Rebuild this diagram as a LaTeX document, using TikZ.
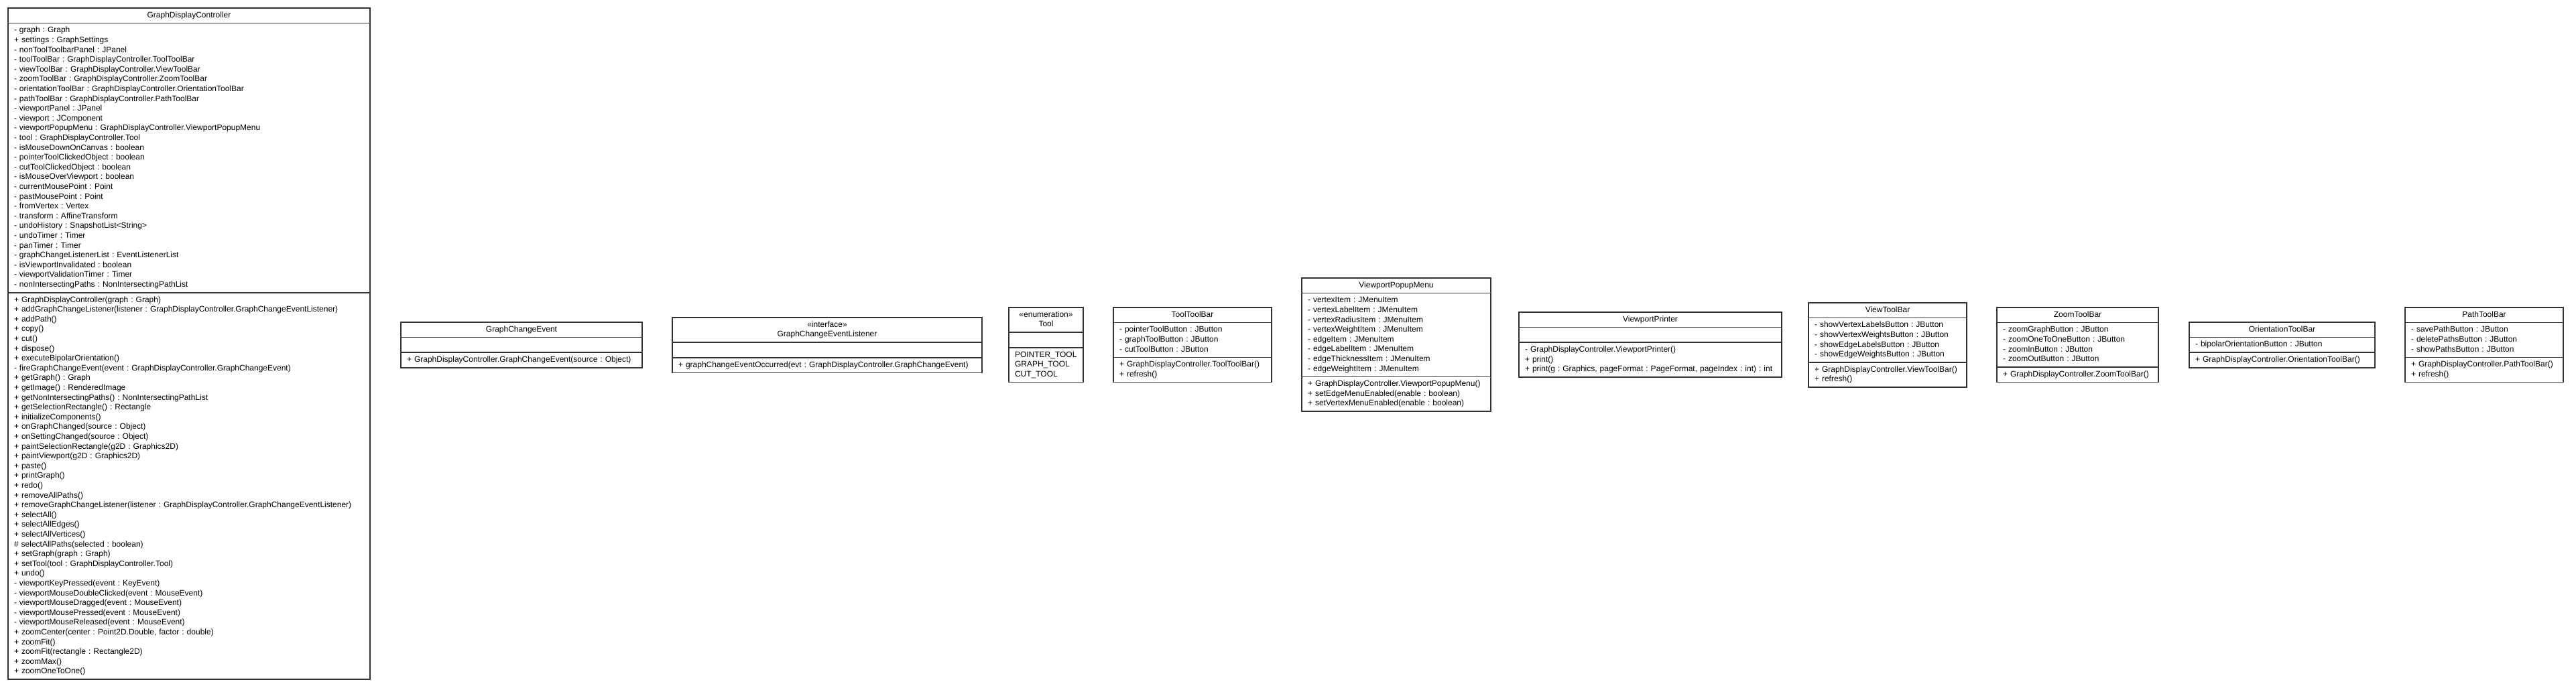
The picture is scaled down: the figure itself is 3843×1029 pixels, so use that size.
\documentclass[tikz,border=0pt]{standalone}
\usepackage{fontspec}
\setmainfont{Liberation Sans}
\usetikzlibrary{positioning}
\tikzset{
  umlbox/.style={draw=black!80, line width=1.5pt, fill=white, inner xsep=9pt, inner ysep=4pt,
    outer sep=0pt, font=\fontsize{12}{14.6}\selectfont\frenchspacing,
    execute at begin node=\strut, execute at end node=\strut},
  umltitle/.style={umlbox, anchor=north west, align=center},
  umlpart/.style={umlbox, align=left, below=0pt of #1},
}

\begin{document}
\begin{tikzpicture}[x=1pt,y=-1pt]
  \useasboundingbox (0,0) rectangle (3843,1029);

  \node[umltitle, text width=522pt] (gdc) at (12,12) {GraphDisplayController};
  \node[umlpart=gdc, text width=522pt] (gdcA) {- graph : Graph\\+ settings : GraphSettings\\- nonToolToolbarPanel : JPanel\\- toolToolBar : GraphDisplayController.ToolToolBar\\- viewToolBar : GraphDisplayController.ViewToolBar\\- zoomToolBar : GraphDisplayController.ZoomToolBar\\- orientationToolBar : GraphDisplayController.OrientationToolBar\\- pathToolBar : GraphDisplayController.PathToolBar\\- viewportPanel : JPanel\\- viewport : JComponent\\- viewportPopupMenu : GraphDisplayController.ViewportPopupMenu\\- tool : GraphDisplayController.Tool\\- isMouseDownOnCanvas : boolean\\- pointerToolClickedObject : boolean\\- cutToolClickedObject : boolean\\- isMouseOverViewport : boolean\\- currentMousePoint : Point\\- pastMousePoint : Point\\- fromVertex : Vertex\\- transform : AffineTransform\\- undoHistory : SnapshotList<String>\\- undoTimer : Timer\\- panTimer : Timer\\- graphChangeListenerList : EventListenerList\\- isViewportInvalidated : boolean\\- viewportValidationTimer : Timer\\- nonIntersectingPaths : NonIntersectingPathList};
  \node[umlpart=gdcA, text width=522pt] (gdcM) {+ GraphDisplayController(graph : Graph)\\+ addGraphChangeListener(listener : GraphDisplayController.GraphChangeEventListener)\\+ addPath()\\+ copy()\\+ cut()\\+ dispose()\\+ executeBipolarOrientation()\\- fireGraphChangeEvent(event : GraphDisplayController.GraphChangeEvent)\\+ getGraph() : Graph\\+ getImage() : RenderedImage\\+ getNonIntersectingPaths() : NonIntersectingPathList\\+ getSelectionRectangle() : Rectangle\\+ initializeComponents()\\+ onGraphChanged(source : Object)\\+ onSettingChanged(source : Object)\\+ paintSelectionRectangle(g2D : Graphics2D)\\+ paintViewport(g2D : Graphics2D)\\+ paste()\\+ printGraph()\\+ redo()\\+ removeAllPaths()\\+ removeGraphChangeListener(listener : GraphDisplayController.GraphChangeEventListener)\\+ selectAll()\\+ selectAllEdges()\\+ selectAllVertices()\\\# selectAllPaths(selected : boolean)\\+ setGraph(graph : Graph)\\+ setTool(tool : GraphDisplayController.Tool)\\+ undo()\\- viewportKeyPressed(event : KeyEvent)\\- viewportMouseDoubleClicked(event : MouseEvent)\\- viewportMouseDragged(event : MouseEvent)\\- viewportMousePressed(event : MouseEvent)\\- viewportMouseReleased(event : MouseEvent)\\+ zoomCenter(center : Point2D.Double, factor : double)\\+ zoomFit()\\+ zoomFit(rectangle : Rectangle2D)\\+ zoomMax()\\+ zoomOneToOne()};

  \node[umltitle, text width=342pt] (event) at (598,481) {GraphChangeEvent};
  \node[umlpart=event, text width=342pt] (eventA) {};
  \node[umlpart=eventA, text width=342pt] (eventM) {+ GraphDisplayController.GraphChangeEvent(source : Object)};

  \node[umltitle, text width=444pt] (listener) at (1003,474) {«interface»\\GraphChangeEventListener};
  \node[umlpart=listener, text width=444pt] (listenerA) {};
  \node[umlpart=listenerA, text width=444pt] (listenerM) {+ graphChangeEventOccurred(evt : GraphDisplayController.GraphChangeEvent)};

  \node[umltitle, text width=93pt] (tool) at (1505,459) {«enumeration»\\Tool};
  \node[umlpart=tool, text width=93pt] (toolA) {};
  \node[umlpart=toolA, text width=93pt] (toolV) {POINTER\_TOOL\\GRAPH\_TOOL\\CUT\_TOOL};

  \node[umltitle, text width=218pt] (toolbar) at (1661,459) {ToolToolBar};
  \node[umlpart=toolbar, text width=218pt] (toolbarA) {- pointerToolButton : JButton\\- graphToolButton : JButton\\- cutToolButton : JButton};
  \node[umlpart=toolbarA, text width=218pt] (toolbarM) {+ GraphDisplayController.ToolToolBar()\\+ refresh()};

  \node[umltitle, text width=264pt] (popup) at (1942,415) {ViewportPopupMenu};
  \node[umlpart=popup, text width=264pt] (popupA) {- vertexItem : JMenuItem\\- vertexLabelItem : JMenuItem\\- vertexRadiusItem : JMenuItem\\- vertexWeightItem : JMenuItem\\- edgeItem : JMenuItem\\- edgeLabelItem : JMenuItem\\- edgeThicknessItem : JMenuItem\\- edgeWeightItem : JMenuItem};
  \node[umlpart=popupA, text width=264pt] (popupM) {+ GraphDisplayController.ViewportPopupMenu()\\+ setEdgeMenuEnabled(enable : boolean)\\+ setVertexMenuEnabled(enable : boolean)};

  \node[umltitle, text width=374pt] (printer) at (2266,466) {ViewportPrinter};
  \node[umlpart=printer, text width=374pt] (printerA) {};
  \node[umlpart=printerA, text width=374pt] (printerM) {- GraphDisplayController.ViewportPrinter()\\+ print()\\+ print(g : Graphics, pageFormat : PageFormat, pageIndex : int) : int};

  \node[umltitle, text width=218pt] (view) at (2698,452) {ViewToolBar};
  \node[umlpart=view, text width=218pt] (viewA) {- showVertexLabelsButton : JButton\\- showVertexWeightsButton : JButton\\- showEdgeLabelsButton : JButton\\- showEdgeWeightsButton : JButton};
  \node[umlpart=viewA, text width=218pt] (viewM) {+ GraphDisplayController.ViewToolBar()\\+ refresh()};

  \node[umltitle, text width=223pt] (zoom) at (2979,459) {ZoomToolBar};
  \node[umlpart=zoom, text width=223pt] (zoomA) {- zoomGraphButton : JButton\\- zoomOneToOneButton : JButton\\- zoomInButton : JButton\\- zoomOutButton : JButton};
  \node[umlpart=zoomA, text width=223pt] (zoomM) {+ GraphDisplayController.ZoomToolBar()};

  \node[umltitle, text width=259pt] (orient) at (3266,481) {OrientationToolBar};
  \node[umlpart=orient, text width=259pt] (orientA) {- bipolarOrientationButton : JButton};
  \node[umlpart=orientA, text width=259pt] (orientM) {+ GraphDisplayController.OrientationToolBar()};

  \node[umltitle, text width=218pt] (path) at (3588,459) {PathToolBar};
  \node[umlpart=path, text width=218pt] (pathA) {- savePathButton : JButton\\- deletePathsButton : JButton\\- showPathsButton : JButton};
  \node[umlpart=pathA, text width=218pt] (pathM) {+ GraphDisplayController.PathToolBar()\\+ refresh()};
\end{tikzpicture}
\end{document}
